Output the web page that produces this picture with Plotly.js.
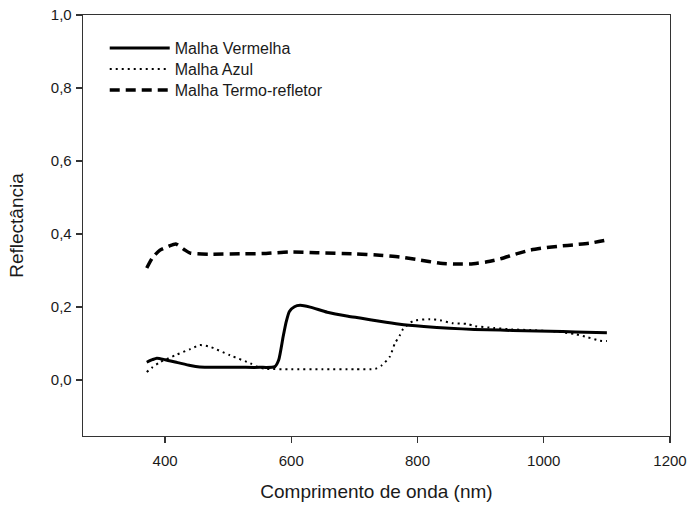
<!DOCTYPE html>
<html>
<head>
<meta charset="utf-8">
<script src="https://cdn.plot.ly/plotly-3.0.1.min.js"></script>
<style>html,body{margin:0;padding:0;background:#fff}#chart{width:688px;height:506px}</style>
</head>
<body>
<div id="chart"></div>
<script>
const seriesNames = ["Malha Vermelha", "Malha Azul", "Malha Termo-refletor"];

const vermelhaX = [371, 380, 387, 400, 420, 440, 455, 480, 520, 550, 574, 580, 587, 592, 597, 605, 614, 630, 657, 690, 709, 740, 772, 810, 851, 890, 931, 970, 1010, 1050, 1100];
const vermelhaY = [0.049, 0.056, 0.060, 0.056, 0.048, 0.040, 0.036, 0.035, 0.035, 0.035, 0.037, 0.055, 0.118, 0.160, 0.188, 0.201, 0.205, 0.200, 0.186, 0.175, 0.170, 0.161, 0.153, 0.147, 0.142, 0.139, 0.137, 0.135, 0.134, 0.132, 0.130];

const azulX = [371, 380, 392, 416, 440, 455, 470, 503, 535, 547, 560, 600, 650, 700, 733, 743, 756, 764, 772, 777, 793, 820, 836, 855, 878, 891, 920, 950, 978, 1020, 1050, 1068, 1089, 1100];
const azulY = [0.022, 0.035, 0.049, 0.068, 0.085, 0.096, 0.092, 0.068, 0.046, 0.036, 0.031, 0.030, 0.030, 0.030, 0.031, 0.040, 0.064, 0.100, 0.123, 0.140, 0.162, 0.167, 0.164, 0.156, 0.154, 0.148, 0.143, 0.139, 0.137, 0.133, 0.126, 0.118, 0.108, 0.107];

const termoX = [371, 380, 392, 405, 417, 430, 440, 470, 520, 560, 598, 640, 700, 740, 772, 800, 836, 860, 883, 910, 931, 955, 978, 1000, 1025, 1050, 1073, 1100];
const termoY = [0.307, 0.335, 0.356, 0.366, 0.373, 0.358, 0.348, 0.345, 0.346, 0.347, 0.351, 0.349, 0.346, 0.342, 0.337, 0.330, 0.320, 0.318, 0.318, 0.324, 0.332, 0.345, 0.356, 0.362, 0.367, 0.371, 0.375, 0.384];

const xTicks = [400, 600, 800, 1000, 1200];
const yTicks = [0.0, 0.2, 0.4, 0.6, 0.8, 1.0];

const data = [
  {x: vermelhaX, y: vermelhaY, name: seriesNames[0], type: "scatter", mode: "lines", legend: "legend",
   line: {color: "#000", width: 3, shape: "spline", smoothing: 0.6}},
  {x: azulX, y: azulY, name: seriesNames[1], type: "scatter", mode: "lines", legend: "legend2",
   line: {color: "#000", width: 2, dash: "2px,4px", shape: "spline", smoothing: 0.6}},
  {x: termoX, y: termoY, name: seriesNames[2], type: "scatter", mode: "lines", legend: "legend3",
   line: {color: "#000", width: 3.5, dash: "10px,6px", shape: "spline", smoothing: 0.6}}
];

const FAM = "Liberation Sans, Arial, sans-serif";
const axisFont = {family: FAM, size: 15, color: "#1a1a1a"};
const titleFont = {family: FAM, size: 19, color: "#1a1a1a"};

function legendAt(yv) {
  return {x: 0.037, y: yv, xanchor: "left", yanchor: "middle",
    font: {family: FAM, size: 16, color: "#1a1a1a"},
    bgcolor: "rgba(0,0,0,0)", itemwidth: 60};
}

const layout = {
  width: 688, height: 506,
  margin: {l: 83, r: 18, t: 15, b: 70},
  paper_bgcolor: "#fff", plot_bgcolor: "#fff",
  separators: ",.",
  showlegend: true,
  legend: legendAt(0.9216),
  legend2: legendAt(0.8717),
  legend3: legendAt(0.8219),
  xaxis: {range: [270, 1200], tickvals: xTicks, ticktext: xTicks.map(String),
    ticks: "outside", ticklen: 6, tickcolor: "#333", tickwidth: 1.3,
    showline: true, linecolor: "#333", linewidth: 1.3, mirror: true,
    showgrid: false, zeroline: false, tickfont: axisFont, ticklabelstandoff: 5,
    title: {text: "Comprimento de onda (nm)", font: titleFont, standoff: 16}},
  yaxis: {range: [-0.153, 1.0], tickvals: yTicks, tickformat: ".1f",
    ticks: "outside", ticklen: 6, tickcolor: "#333", tickwidth: 1.3,
    showline: true, linecolor: "#333", linewidth: 1.3, mirror: true,
    showgrid: false, zeroline: false, tickfont: axisFont, ticklabelstandoff: 1,
    title: {text: "Reflectância", font: titleFont, standoff: 22}}
};

Plotly.newPlot("chart", data, layout, {displayModeBar: false, staticPlot: true});
</script>
</body>
</html>
